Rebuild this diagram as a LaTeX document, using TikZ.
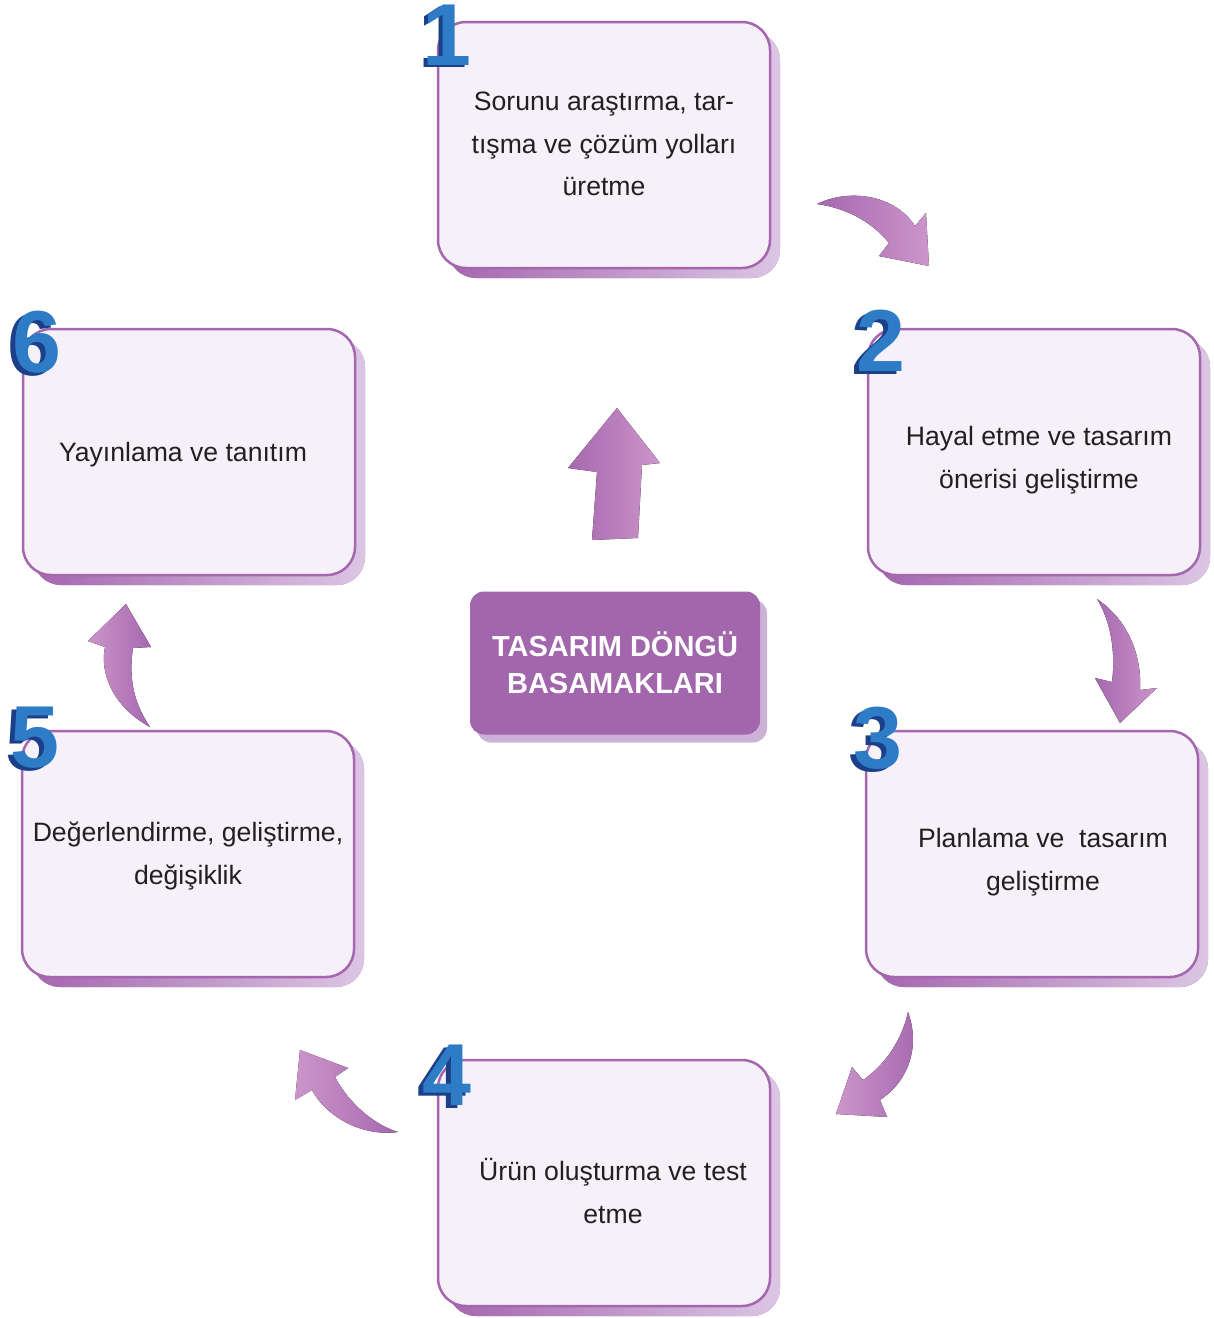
\documentclass[tikz,border=0pt]{standalone}
\usepackage{fontspec}
\setmainfont{Liberation Sans}
\usetikzlibrary{shadows}
\definecolor{boxline}{HTML}{A566B0}
\definecolor{boxfill}{HTML}{F6F1F8}
\definecolor{shdark}{HTML}{A466AE}
\definecolor{shlight}{HTML}{DCC6E4}
\definecolor{centerfill}{HTML}{A266AC}
\definecolor{centershadow}{HTML}{CDB2D8}
\definecolor{arrowA}{HTML}{A568AF}
\definecolor{arrowB}{HTML}{CC95CA}
\definecolor{digitfront}{HTML}{2E7CC6}
\definecolor{digitback}{HTML}{1B3F88}
\definecolor{txtcol}{HTML}{231F20}
\begin{document}
\begin{tikzpicture}[x=1pt,y=-1pt,
  card/.style={draw=boxline, line width=2.5pt, fill=boxfill, rounded corners=28pt,
    minimum width=332pt, minimum height=246pt, inner sep=0pt,
    drop shadow={shadow xshift=10pt, shadow yshift=-10pt, opacity=1,
      left color=shdark, right color=shlight}},
  cardtext/.style={inner sep=0pt, align=center, text=txtcol,
    font=\fontsize{26.6}{42.5}\selectfont},
  centerbox/.style={fill=centerfill, rounded corners=14pt, minimum width=290pt,
    minimum height=143pt, inner sep=0pt, align=center, text=white,
    font=\fontsize{29}{37}\selectfont\bfseries,
    drop shadow={shadow xshift=7pt, shadow yshift=-8pt, opacity=1, fill=centershadow}},
  digitf/.style={text=digitfront, inner sep=0pt, font=\fontsize{88}{88}\selectfont\bfseries},
  digitb/.style={text=digitback, inner sep=0pt, font=\fontsize{88}{88}\selectfont\bfseries},
  arrowshape/.style={left color=arrowA, right color=arrowB, draw=none},
  arrowshapeB/.style={left color=arrowB, right color=arrowA, draw=none}
]
\useasboundingbox (0,0) rectangle (1214,1318);

% boxes
\node[card] (b1) at (604,145) {};
\node[card] (b2) at (1034,452) {};
\node[card] (b3) at (1032,854) {};
\node[card] (b4) at (604,1183) {};
\node[card] (b5) at (188,854) {};
\node[card] (b6) at (189,452) {};

\node[cardtext] (t1) at (604,144) {Sorunu araştırma, tar-\\tışma ve çözüm yolları\\üretme};
\node[cardtext] (t2) at (1039,460) {Hayal etme ve tasarım\\önerisi geliştirme};
\node[cardtext] (t3) at (1043,862) {Planlama ve\ \ tasarım\\geliştirme};
\node[cardtext] (t4) at (613,1191) {Ürün oluşturma ve test\\etme};
\node[cardtext] (t5) at (188,856) {Değerlendirme, geliştirme,\\değişiklik};
\node[cardtext] (t6) at (183,455) {Yayınlama ve tanıtım};

% center
\node[centerbox] (c) at (615,663) {TASARIM DÖNGÜ\\BASAMAKLARI};

% digits
\node[digitb] (n1b) at (443,37) {1};
\node[digitf] (n1) at (447,35) {1};
\node[digitb] (n2b) at (876,344) {2};
\node[digitf] (n2) at (881,341) {2};
\node[digitb] (n3b) at (873,741) {3};
\node[digitf] (n3) at (878,738) {3};
\node[digitb] (n4b) at (442,1078) {4};
\node[digitf] (n4) at (447,1075) {4};
\node[digitb] (n5b) at (30,741) {5};
\node[digitf] (n5) at (35,738) {5};
\node[digitb] (n6b) at (32,345) {6};
\node[digitf] (n6) at (37,342) {6};

% arrows
\fill[arrowshape] (817,204) .. controls (850,188) and (895,195) .. (915,226)
  -- (926,213) -- (929,266) -- (879,256) -- (889,243)
  .. controls (870,220) and (845,208) .. cycle;
\fill[arrowshape] (1097,599) .. controls (1128,620) and (1142,655) .. (1140,690)
  -- (1157,688) -- (1120,723) -- (1095,678) -- (1112,682)
  .. controls (1116,650) and (1110,620) .. cycle;
\fill[arrowshapeB] (908,1012) .. controls (920,1045) and (910,1080) .. (880,1100)
  -- (887,1117) -- (836,1114) -- (852,1067) -- (863,1080)
  .. controls (885,1065) and (902,1040) .. cycle;
\fill[arrowshapeB] (398,1132) .. controls (360,1137) and (325,1115) .. (312,1090)
  -- (295,1100) -- (300,1050) -- (348,1068) -- (335,1077)
  .. controls (350,1105) and (375,1125) .. cycle;
\fill[arrowshapeB] (150,727) .. controls (110,705) and (100,670) .. (105,647)
  -- (88,641) -- (126,604) -- (151,647) -- (133,648)
  .. controls (128,680) and (135,705) .. cycle;
\fill[arrowshape] (617,408) -- (660,463) -- (642,465) -- (638,538)
  -- (592,540) -- (597,472) -- (568,468) -- cycle;
\end{tikzpicture}
\end{document}
